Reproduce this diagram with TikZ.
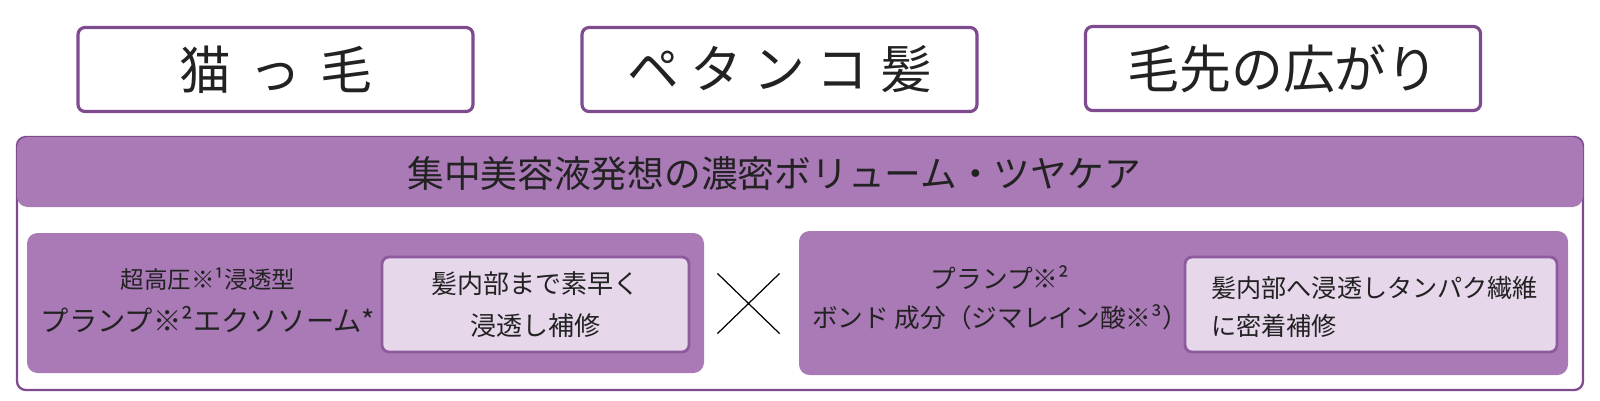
\documentclass[tikz,border=0pt]{standalone}
\usepackage{fontspec}
\setmainfont{Noto Sans CJK JP}
\usepackage{tikz}
\usetikzlibrary{shapes.misc, positioning}
\definecolor{PlumLine}  {HTML}{7E4B8E}
\definecolor{PlumFill}  {HTML}{A97AB6}
\definecolor{PlumEdge}  {HTML}{8E5A9E}
\definecolor{LilacFill} {HTML}{E6D7EB}
\definecolor{InkGray}   {HTML}{222222}

\begin{document}
\begin{tikzpicture}[
  x=0.2mm, y=-0.2mm,
  every node/.style = {text=InkGray},
  topbox/.style  = {draw=PlumLine, fill=white, line width=1.8pt, rounded corners=4pt,
                    minimum width=395*0.2mm, minimum height=84*0.2mm, inner sep=0pt,
                    font=\fontsize{29.5}{31}\selectfont},
  frame/.style   = {draw=PlumLine, line width=1.3pt, rounded corners=5pt, inner sep=0pt},
  band/.style    = {fill=PlumFill, rounded corners=6pt, inner sep=0pt},
  panel/.style   = {fill=PlumFill, rounded corners=6pt, inner sep=0pt},
  note/.style    = {draw=PlumEdge, fill=LilacFill, line width=1.6pt, rounded corners=4pt,
                    inner sep=0pt},
  lbl/.style     = {inner sep=0pt, font=\fontsize{14.8}{23.5}\selectfont},
]
\useasboundingbox (0,0) rectangle (1600,400);
% top row
\node[topbox] (neko)   at (275.5,69.5) {猫\hspace{0.36em}っ\hspace{0.36em}毛};
\node[topbox] (petanko) at (779.5,69.5) {ペ\hspace{0.22em}タ\hspace{0.22em}ン\hspace{0.22em}コ\hspace{0.22em}髪};
\node[topbox] (keshaki) at (1283,68.5) {毛先の広がり};
% container
\node[frame, minimum width=1566*0.2mm, minimum height=253*0.2mm] (cont) at (800,263.5) {};
\node[band,  minimum width=1566*0.2mm, minimum height=70*0.2mm]  (head) at (800,172) {};
\node[inner sep=0pt, font=\fontsize{20.9}{22}\selectfont] (title) at (774,174)
  {集中美容液発想の濃密ボリューム・ツヤケア};
% left panel
\node[panel, minimum width=677*0.2mm, minimum height=140*0.2mm] (lpanel) at (365.5,303) {};
\node[note,  minimum width=307*0.2mm, minimum height=95*0.2mm]  (lnote)  at (535.5,304.5) {};
\node[lbl, align=center] (ltext) at (208,300)
  {{\fontsize{13.4}{23}\selectfont 超高圧※¹浸透型}\\[1pt]{\fontsize{16.1}{23}\selectfont プランプ※²エクソソーム*}};
\node[lbl, align=center] (lnotetext) at (lnote) {髪内部まで素早く\\浸透し補修};
% cross
\node[cross out, draw=black, line width=0.7pt, minimum width=61*0.2mm,
      minimum height=59*0.2mm, inner sep=0pt] (times) at (748.5,303.5) {};
% right panel
\node[panel, minimum width=769*0.2mm, minimum height=144*0.2mm] (rpanel) at (1183.5,303) {};
\node[note,  minimum width=372*0.2mm, minimum height=95*0.2mm]  (rnote)  at (1371,304.5) {};
\node[lbl, align=center, font=\fontsize{14.6}{22}\selectfont] (rtext) at (1000,298)
  {プランプ※²\\ボンド 成分（ジマレイン酸※³）};
\node[lbl, align=left, anchor=west, font=\fontsize{14.3}{21.6}\selectfont] (rnotetext) at (1211,307)
  {髪内部へ浸透しタンパク繊維\\に密着補修};
\end{tikzpicture}
\end{document}
